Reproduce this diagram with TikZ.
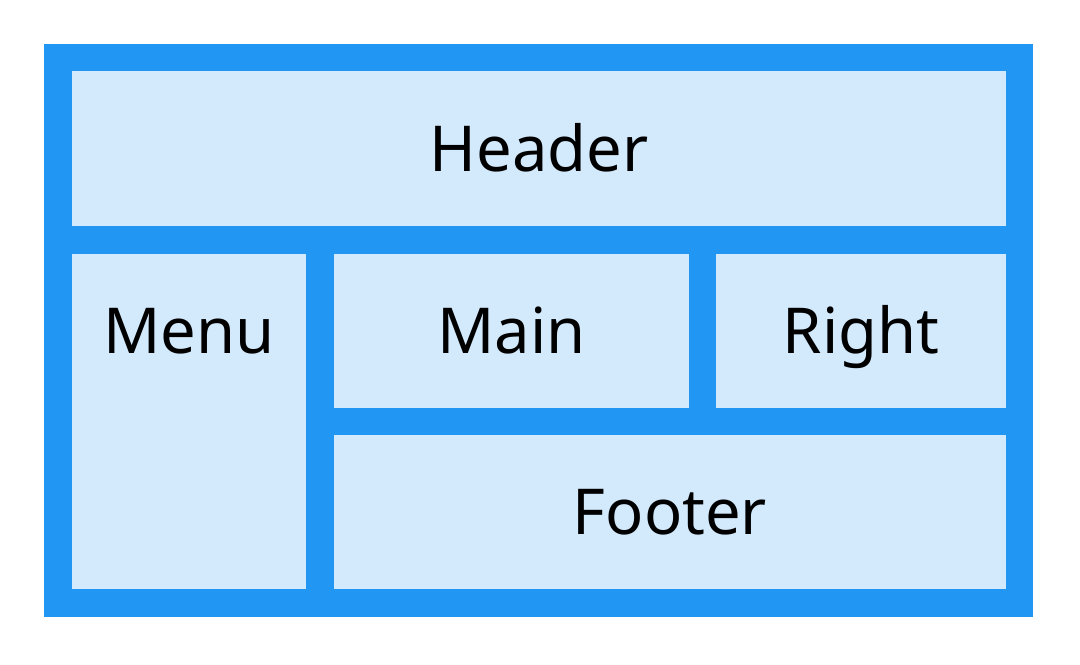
\documentclass[tikz,border=0pt]{standalone}
\usepackage{fontspec}
\setmainfont{Noto Sans}
\usetikzlibrary{positioning}
\definecolor{frameblue}{HTML}{2196F3}
\definecolor{boxblue}{HTML}{D3EAFD}
\tikzset{
	frame/.style={rectangle,fill=frameblue,inner sep=0pt,outer sep=0pt},
	area/.style={rectangle,fill=boxblue,inner sep=0pt,outer sep=0pt,text height=12.9pt,text depth=0pt,font=\fontsize{18}{22}\selectfont},
	areatext/.style={inner sep=0pt,text height=12.9pt,text depth=0pt,font=\fontsize{18}{22}\selectfont}}
\begin{document}
\begin{tikzpicture}[x=0.01cm,y=-0.01cm]
	\useasboundingbox[fill=white] (0,0) rectangle (1080,664);
	\node (F) at (538.5,330.5) [frame,minimum width=9.89cm,minimum height=5.73cm] {};
	\node (H) at (539,148.5) [area,minimum width=9.34cm,minimum height=1.54cm] {Header};
	\node (M) at (189,421.5) [area,minimum width=2.34cm,minimum height=3.35cm] {};
	\node (C) at (511.5,331) [area,minimum width=3.55cm,minimum height=1.54cm] {Main};
	\node (R) at (861,331) [area,minimum width=2.90cm,minimum height=1.54cm] {Right};
	\node (B) at (670,512) [area,minimum width=6.72cm,minimum height=1.54cm] {Footer};
	\node (Mt) at (189,331) [areatext] {Menu};
\end{tikzpicture}
\end{document}
